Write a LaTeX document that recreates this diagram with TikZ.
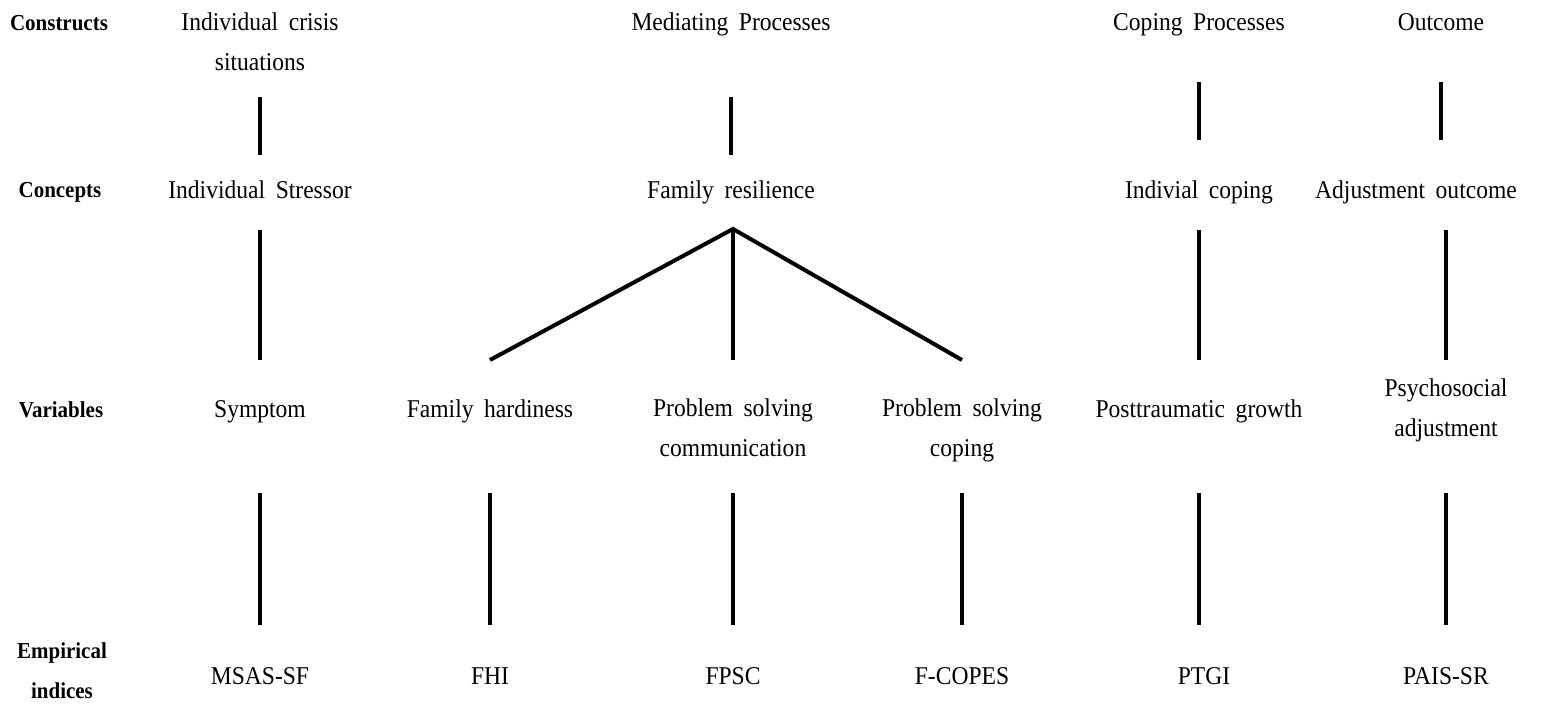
\documentclass[tikz,border=0pt]{standalone}
\usepackage{fontspec}
\setmainfont{Liberation Serif}[WordSpace=1.8,FakeStretch=0.92]
\begin{document}
\begin{tikzpicture}[x=0.5pt,y=-0.5pt,
  lbl/.style={inner sep=0pt,align=center,anchor=base,font=\fontsize{12.8}{20}\selectfont},
  rowlbl/.style={inner sep=0pt,align=center,anchor=base,font=\fontsize{11.4}{20}\selectfont\bfseries},
  link/.style={line width=2pt}]
\useasboundingbox (0,0) rectangle (1544,704);

% row headings (placed at their last baseline)
\node[rowlbl] (hcon) at (59,31) {Constructs};
\node[rowlbl] (hcpt) at (60,198) {Concepts};
\node[rowlbl] (hvar) at (61,418) {Variables};
\node[rowlbl] (hemp) at (62,699) {Empirical\\indices};

% constructs
\node[lbl] (ics) at (260,71) {Individual crisis\\situations};
\node[lbl] (mp)  at (731,31) {Mediating Processes};
\node[lbl] (cp)  at (1199,31) {Coping Processes};
\node[lbl] (out) at (1441,31) {Outcome};

% concepts
\node[lbl] (is) at (260,199) {Individual Stressor};
\node[lbl] (fr) at (731,199) {Family resilience};
\node[lbl] (ic) at (1199,199) {Indivial coping};
\node[lbl] (ao) at (1416,199) {Adjustment outcome};

% variables
\node[lbl] (sym)  at (260,418) {Symptom};
\node[lbl] (fh)   at (490,418) {Family hardiness};
\node[lbl] (psc)  at (733,457) {Problem solving\\communication};
\node[lbl] (pscp) at (962,457) {Problem solving\\coping};
\node[lbl] (ptg)  at (1199,418) {Posttraumatic growth};
\node[lbl] (psa)  at (1446,437) {Psychosocial\\adjustment};

% empirical indices
\node[lbl] (msas) at (260,685) {MSAS-SF};
\node[lbl] (fhi)  at (490,685) {FHI};
\node[lbl] (fpsc) at (733,685) {FPSC};
\node[lbl] (fcop) at (962,685) {F-COPES};
\node[lbl] (ptgi) at (1204,685) {PTGI};
\node[lbl] (pais) at (1446,685) {PAIS-SR};

% branching point below family resilience and the branch ends
\coordinate (apex) at (733,229);
\path (fh.base) ++(0,-58) coordinate (fhtop);
\path (psc.base) ++(0,-97) coordinate (psctop);
\path (pscp.base) ++(0,-97) coordinate (pscptop);

% constructs -> concepts
\draw[link,shorten <=13pt,shorten >=22pt] (ics.base) -- (is.base);
\draw[link,shorten <=33pt,shorten >=22pt,xshift=1pt] (mp.base) -- (fr.base);
\draw[link,shorten <=25.5pt,shorten >=29.5pt,xshift=2.5pt] (cp.base) -- (ic.base);
\draw[link,shorten <=25.5pt,shorten >=29.5pt,xshift=2.5pt] (out.base) -- (out.base |- ao.base);

% concepts -> variables
\draw[link,shorten <=15.5pt,shorten >=29pt] (is.base) -- (sym.base);
\draw[link] (fhtop) -- (apex) -- (pscptop);
\draw[link] (apex) -- (psctop);
\draw[link,shorten <=15.5pt,shorten >=29pt,xshift=2.5pt] (ic.base) -- (ptg.base);
\draw[link,shorten <=15.5pt,shorten >=38.5pt] (psa.base |- ao.base) -- (psa.base);

% variables -> empirical indices
\draw[link,shorten <=37.5pt,shorten >=30pt] (sym.base) -- (msas.base);
\draw[link,shorten <=37.5pt,shorten >=30pt] (fh.base) -- (fhi.base);
\draw[link,shorten <=18pt,shorten >=30pt] (psc.base) -- (fpsc.base);
\draw[link,shorten <=18pt,shorten >=30pt] (pscp.base) -- (fcop.base);
\draw[link,shorten <=37.5pt,shorten >=30pt,xshift=2.5pt] (ptg.base) -- (ptgi.base -| ptg.base);
\draw[link,shorten <=28pt,shorten >=30pt] (psa.base) -- (pais.base);
\end{tikzpicture}
\end{document}
